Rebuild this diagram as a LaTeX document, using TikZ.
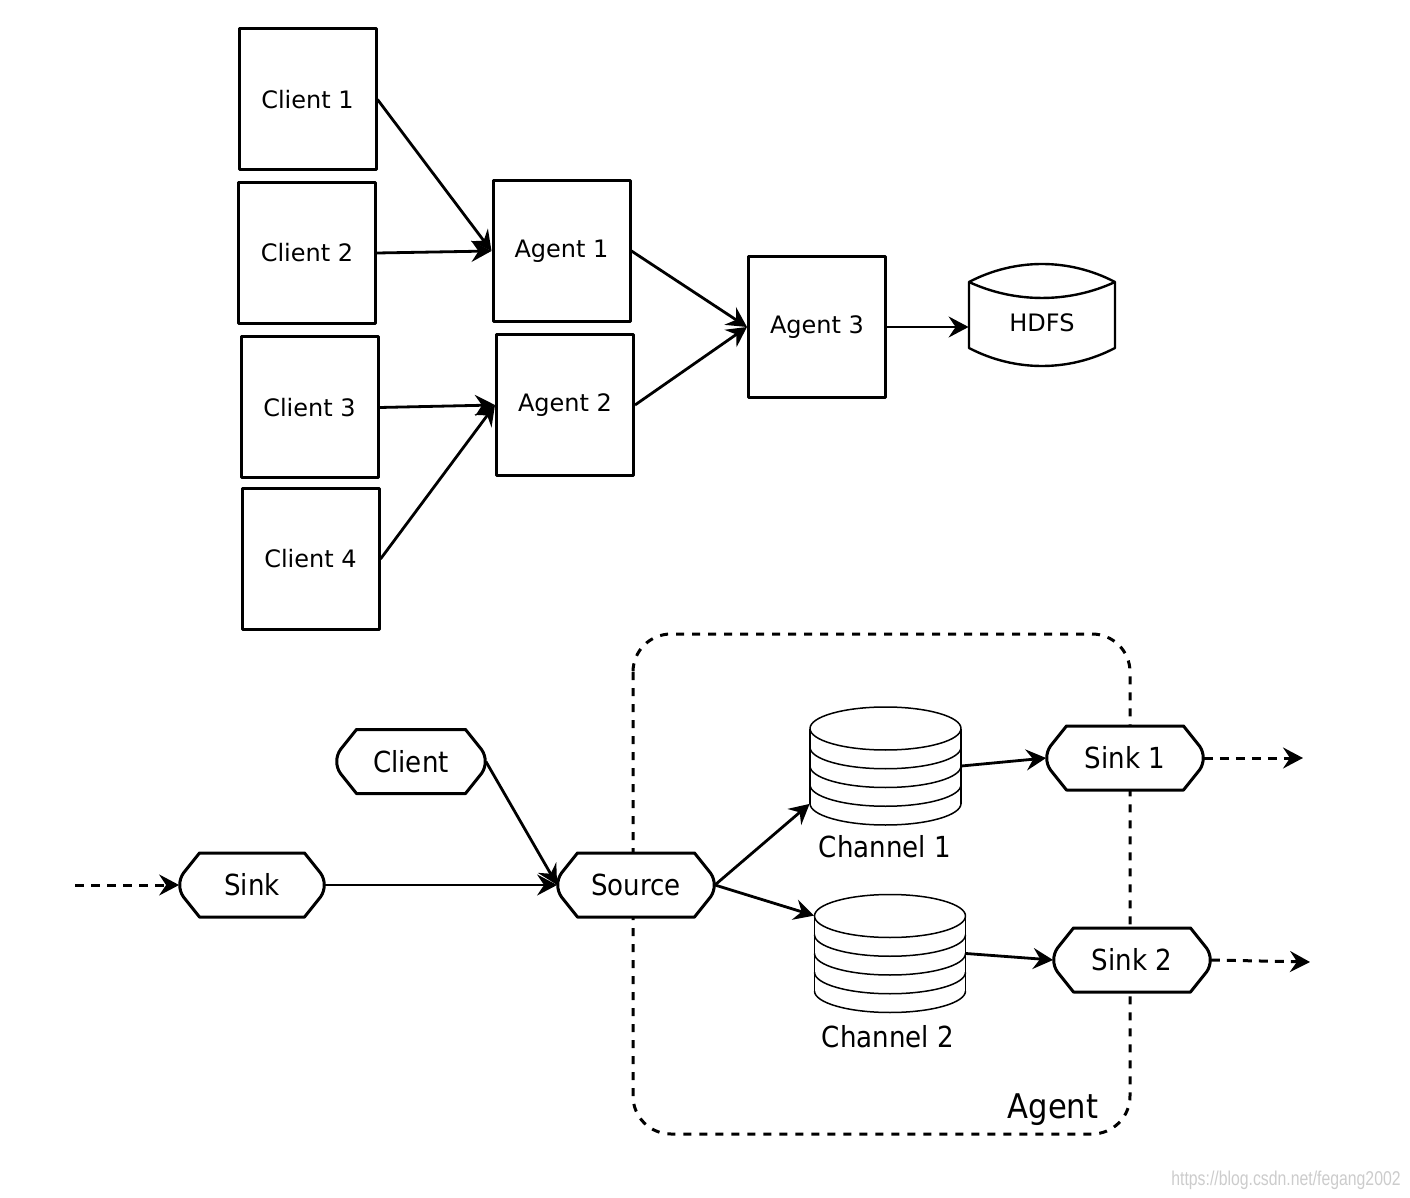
\documentclass[tikz,border=0pt]{standalone}
\usepackage{fontspec}
\setmainfont{DejaVu Sans}
\newfontfamily\condfont{DejaVu Sans Condensed}
\newfontfamily\markfont[FakeStretch=0.79]{Liberation Sans}
\usetikzlibrary{arrows.meta}

% stacked disks of a channel, drawn round a named node
\newcommand\chanstack[1]{%
  \begin{scope}[shift={(#1.center)},line width=0.75pt]
    \draw (0,-37.5) ellipse [x radius=75.5,y radius=21.5];
    \foreach \k in {-18.75,0,18.75,37.5}
      \draw (-75.5,\k) arc [start angle=180,end angle=0,x radius=75.5,y radius=21.5];
    \draw (-75.5,-37.5)--(-75.5,37.5) (75.5,-37.5)--(75.5,37.5);
  \end{scope}}
% flume stage: name, position, half width (px), text
\newcommand\stage[4]{%
  \begin{scope}[shift={#2}]
    \draw[stageline] (-#3+20,-32) -- (#3-20,-32) -- (#3-4,-12)
      .. controls (#3+1,-5) and (#3+1,5) .. (#3-4,12) -- (#3-20,32)
      -- (-#3+20,32) -- (-#3+4,12) .. controls (-#3-1,5) and (-#3-1,-5) .. (-#3+4,-12) -- cycle;
  \end{scope}
  \node[stagetext,minimum width=#3pt] (#1) at #2 {#4};}

\begin{document}
\begin{tikzpicture}[x=0.5pt,y=-0.5pt,>={Stealth[length=10pt,width=10.5pt,inset=3.5pt]},
  line join=round,
  box/.style={draw,line width=1.5pt,minimum width=68.5pt,minimum height=70.5pt,inner sep=0pt,font=\fontsize{12}{14}\selectfont},
  flow/.style={->,line width=1.4pt},
  stageline/.style={draw,fill=white,line width=1.5pt},
  stagetext/.style={minimum height=32pt,inner sep=0pt,font=\condfont\fontsize{14.5}{17}\selectfont},
  lead/.style={->,line width=1.5pt,dash pattern=on 4.5pt off 3.5pt},
  chan/.style={minimum width=75.5pt,minimum height=37.5pt,inner sep=0pt},
  agentbox/.style={line width=1.5pt,dash pattern=on 4pt off 4pt,rounded corners=19pt}]
\useasboundingbox (0,0) rectangle (1410,1198);

\node[box] (c1) at (307.5,99.5) {Client 1};
\node[box] (c2) at (307,253) {Client 2};
\node[box] (c3) at (309.5,407.5) {Client 3};
\node[box] (c4) at (310.5,559) {Client 4};
\node[box] (a1) at (561.5,251) {Agent 1};
\node[box] (a2) at (565,405) {Agent 2};
\node[box] (a3) at (817,327) {Agent 3};
\node[minimum width=73pt,minimum height=33pt,inner sep=0pt,font=\fontsize{12}{14}\selectfont] (hdfs) at (1042,323) {HDFS};
\begin{scope}[shift={(hdfs.center)},line width=1.2pt]
  \draw (-73,-41) .. controls (-27,-65) and (27,-65) .. (73,-41) -- (73,25)
    .. controls (27,49) and (-27,49) .. (-73,25) -- cycle;
  \draw (-73,-41) .. controls (-27,-19.7) and (27,-19.7) .. (73,-41);
\end{scope}

\draw[flow] (c1.east) -- (a1.west);
\draw[flow] (c2.east) -- (a1.west);
\draw[flow] (c3.east) -- (a2.west);
\draw[flow] (c4.east) -- (a2.west);
\draw[flow] (a1.east) -- (a3.west);
\draw[flow] (a2.east) -- (a3.west);
\draw[flow] (a3.east) -- (a3.east -| hdfs.west);

\draw[agentbox] (633,634) rectangle (1130,1134);
\node[font=\condfont\fontsize{17}{20}\selectfont] (agentname) at (1053,1110) {Agent};

\stage{client}{(411,761.5)}{74.5}{Client}
\stage{sink}{(252,885)}{72.5}{Sink}
\stage{source}{(636,885)}{78.5}{Source}
\stage{sinkA}{(1125,758)}{78.5}{Sink 1}
\stage{sinkB}{(1132,960)}{78.5}{Sink 2}

\node[chan] (ch1) at (885.5,766) {};
\node[chan] (ch2) at (890,953.5) {};
\chanstack{ch1}
\chanstack{ch2}
\node[font=\condfont\fontsize{14.5}{17}\selectfont] (ch1name) at (885,847) {Channel 1};
\node[font=\condfont\fontsize{14.5}{17}\selectfont] (ch2name) at (888,1037) {Channel 2};

\coordinate (feed) at (75,885);
\coordinate (outA) at (1303,758);
\coordinate (outB) at (1310,962);

\draw[flow] (client.east) -- (source.west);
\draw[flow] (sink.east) -- (source.west);
\draw[flow] (source.east) -- (ch1.south west);
\draw[flow] (source.east) -- (ch2.north west);
\draw[flow] (ch1.east) -- (sinkA.west);
\draw[flow] (ch2.east) -- (sinkB.west);
\draw[lead] (feed) -- (sink.west);
\draw[lead] (sinkA.east) -- (outA);
\draw[lead] (sinkB.east) -- (outB);

\node[text=black!20,font=\markfont\fontsize{10}{12}\selectfont] (mark) at (1286,1180) {https://blog.csdn.net/fegang2002};
\end{tikzpicture}
\end{document}
